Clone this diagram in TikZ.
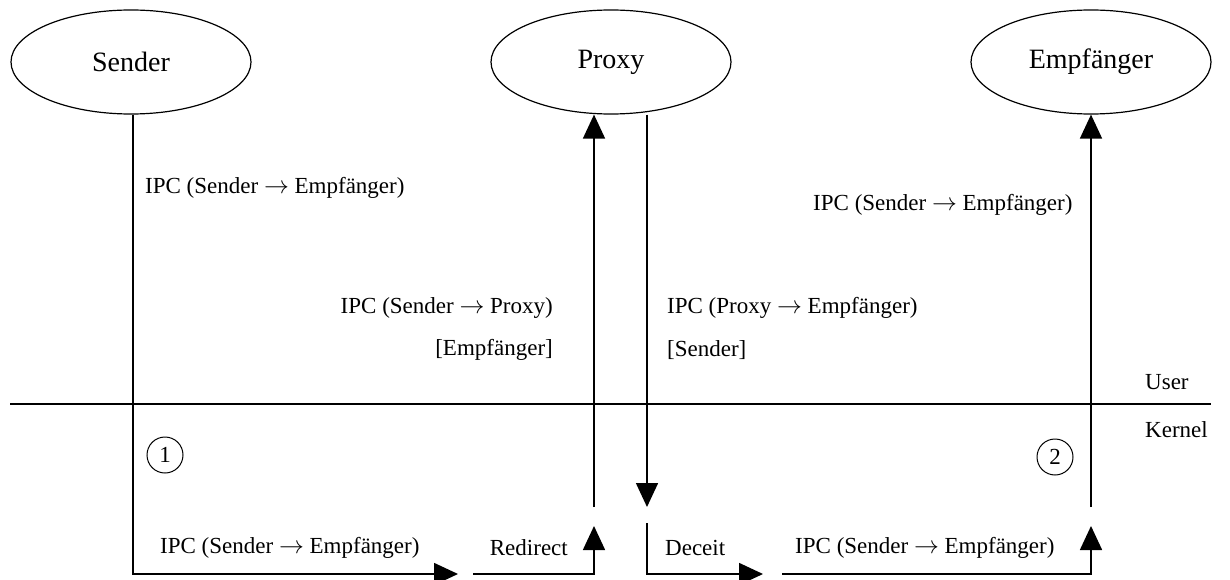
\documentclass[tikz,border=0pt]{standalone}
\usepackage{fontspec}
\setmainfont{Liberation Serif}
\usetikzlibrary{arrows.meta,shapes.geometric}
\newcommand{\msgto}{ \(\rightarrow\) }
\begin{document}
\begin{tikzpicture}[x=1pt,y=-1pt,
  font=\fontsize{23}{27}\selectfont,
  proc/.style={ellipse,draw,line width=1.2pt,minimum width=240pt,minimum height=104pt,inner sep=0pt,
    font=\fontsize{28}{32}\selectfont},
  lbl/.style={inner sep=0pt},
  flow/.style={line width=1.6pt},
  tip/.style={-{Triangle[length=24pt,width=22pt]}},
  numcirc/.style={draw,circle,line width=1pt,minimum size=36pt,inner sep=0pt}]
\useasboundingbox (0,0) rectangle (1230,580);

% processes
\node[proc] (snd) at (131,62) {Sender};
\node[proc] (prx) at (611,62) {Proxy};
\node[proc] (emp) at (1091,62) {Empfänger};

% user / kernel boundary
\coordinate (sepL) at (10,404);
\coordinate (sepR) at (1211,404);
\draw[line width=1.6pt] (sepL) -- (sepR);
\node[lbl,anchor=west] (usr) at (1145,382) {User};
\node[lbl,anchor=west] (krn) at (1145,430) {Kernel};

% routing points of the message flow
\coordinate (a1) at (133,574);
\coordinate (a2) at (458,574);
\coordinate (b1) at (473,574);
\coordinate (b2) at (594,574);
\coordinate (b3) at (594,526);
\coordinate (c1) at (594,507);
\coordinate (d1) at (647,507);
\coordinate (e1) at (647,523);
\coordinate (e2) at (647,574);
\coordinate (e3) at (763,574);
\coordinate (f1) at (782,574);
\coordinate (f2) at (1091,574);
\coordinate (f3) at (1091,526);
\coordinate (g1) at (1091,507);

\draw[flow,tip] (snd.south -| a1) -- (a1) -- (a2);
\draw[flow,tip] (b1) -- (b2) -- (b3);
\draw[flow,tip] (c1) -- (c1 |- prx.south);
\draw[flow,tip] (prx.south -| d1) -- (d1);
\draw[flow,tip] (e1) -- (e2) -- (e3);
\draw[flow,tip] (f1) -- (f2) -- (f3);
\draw[flow,tip] (g1) -- (emp.south);

% labels
\node[lbl,anchor=west] (t1) at (145,188) {IPC (Sender\msgto Empfänger)};
\node[lbl,anchor=east] (t2) at (553,308) {IPC (Sender\msgto Proxy)};
\node[lbl,anchor=east] (t3) at (553,350) {[Empfänger]};
\node[lbl,anchor=west] (t4) at (667,308) {IPC (Proxy\msgto Empfänger)};
\node[lbl,anchor=west] (t5) at (667,350) {[Sender]};
\node[lbl,anchor=west] (t6) at (813,205) {IPC (Sender\msgto Empfänger)};
\node[lbl,anchor=west] (t7) at (160,548) {IPC (Sender\msgto Empfänger)};
\node[lbl,anchor=east] (t8) at (568,548) {Redirect};
\node[lbl,anchor=west] (t9) at (665,548) {Deceit};
\node[lbl,anchor=west] (t10) at (795,548) {IPC (Sender\msgto Empfänger)};

\node[numcirc] (n1) at (165,455) {1};
\node[numcirc] (n2) at (1055,457) {2};
\end{tikzpicture}
\end{document}
